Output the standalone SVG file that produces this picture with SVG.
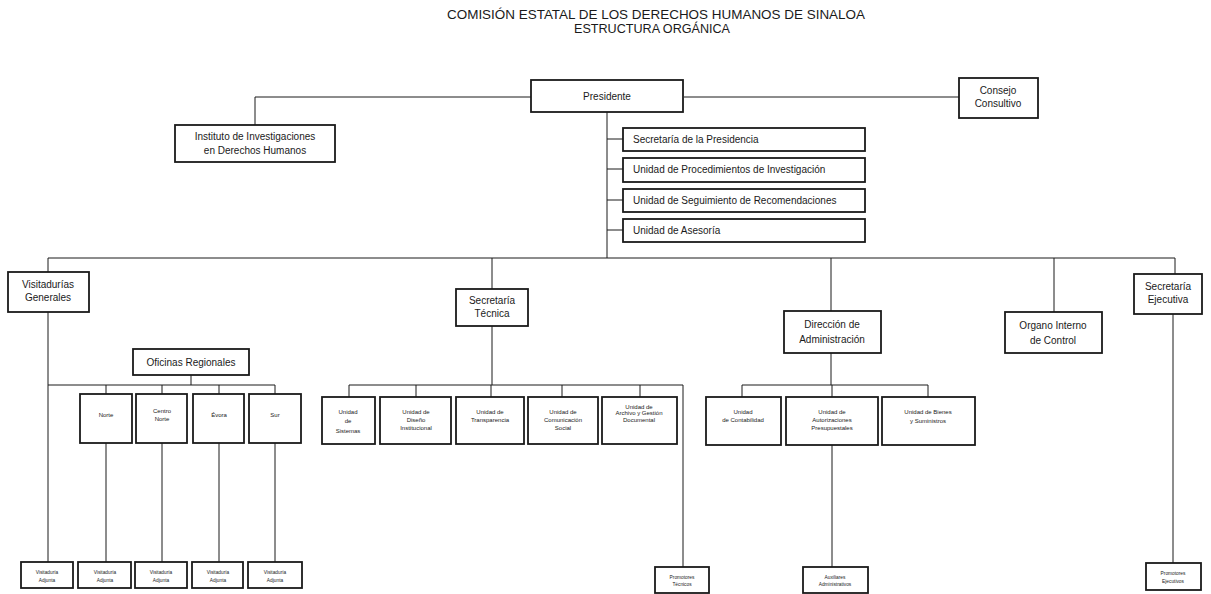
<svg xmlns="http://www.w3.org/2000/svg" width="1211" height="594" viewBox="0 0 1211 594">
<style>
.b{fill:#fff;stroke:#1a1a1a;stroke-width:1.8}
.c{fill:none;stroke:#1a1a1a;stroke-width:1}
text{font-family:"Liberation Sans",Arial,sans-serif;fill:#1a1a1a}
.t{font-size:10px;text-anchor:middle}
.tl{font-size:10px}
.s{font-size:6px;text-anchor:middle}
.xs{font-size:4.8px;text-anchor:middle}
.h{font-size:13px;text-anchor:middle}
</style>
<rect width="1211" height="594" fill="#fff"/>
<g id="title">
<text class="h" x="656" y="19" textLength="418" lengthAdjust="spacingAndGlyphs">COMISIÓN ESTATAL DE LOS DERECHOS HUMANOS DE SINALOA</text>
<text class="h" x="652" y="33" textLength="156" lengthAdjust="spacingAndGlyphs">ESTRUCTURA ORGÁNICA</text>
</g>
<g id="connectors">
<path class="c" d="M531 97H255V125M684 97H959"/>
<path class="c" d="M607 111V258M607 139H623M607 169H623M607 200H623M607 230H623"/>
<path class="c" d="M48 272V258H1175V274M492 258V289M831 258V311M1054 258V312"/>
<path class="c" d="M48 312V562M191 375V385M48 385H275M106 385V394M162 385V394M219 385V394M275 385V394"/>
<path class="c" d="M106 443V562M162 443V562M219 443V562M275 443V562"/>
<path class="c" d="M492 326V385M349 385H683V567M349 385V397M416 385V397M491 385V397M562 385V397M640 385V397"/>
<path class="c" d="M831 353V385M742 385H928M742 385V397M928 385V397M832 385V567"/>
<path class="c" d="M1173 314V563"/>
</g>
<g id="presidente"><rect class="b" x="531" y="80" width="152" height="32"/><text class="t" x="607" y="100">Presidente</text></g>
<g id="instituto"><rect class="b" x="175" y="125" width="160" height="37"/><text class="t" x="255" y="140">Instituto de Investigaciones</text><text class="t" x="255" y="154">en Derechos Humanos</text></g>
<g id="consejo"><rect class="b" x="959" y="78" width="79" height="40"/><text class="t" x="998" y="94">Consejo</text><text class="t" x="998" y="107">Consultivo</text></g>
<g id="secretaria-presidencia"><rect class="b" x="623" y="128" width="242" height="23"/><text class="tl" x="633" y="143">Secretaría de la Presidencia</text></g>
<g id="procedimientos"><rect class="b" x="623" y="158" width="242" height="24"/><text class="tl" x="633" y="173">Unidad de Procedimientos de Investigación</text></g>
<g id="seguimiento"><rect class="b" x="623" y="189" width="242" height="23"/><text class="tl" x="633" y="204">Unidad de Seguimiento de Recomendaciones</text></g>
<g id="asesoria"><rect class="b" x="623" y="219" width="242" height="23"/><text class="tl" x="633" y="234">Unidad de Asesoría</text></g>
<g id="visitadurias"><rect class="b" x="8" y="272" width="81" height="40"/><text class="t" x="48" y="288">Visitadurías</text><text class="t" x="48" y="301">Generales</text></g>
<g id="sec-tecnica"><rect class="b" x="456" y="289" width="72" height="37"/><text class="t" x="492" y="304">Secretaría</text><text class="t" x="492" y="317">Técnica</text></g>
<g id="direccion"><rect class="b" x="784" y="311" width="97" height="42"/><text class="t" x="832" y="328">Dirección de</text><text class="t" x="832" y="343">Administración</text></g>
<g id="organo"><rect class="b" x="1005" y="312" width="97" height="41"/><text class="t" x="1053" y="329">Organo Interno</text><text class="t" x="1053" y="344">de Control</text></g>
<g id="sec-ejecutiva"><rect class="b" x="1134" y="274" width="68" height="40"/><text class="t" x="1168" y="290">Secretaría</text><text class="t" x="1168" y="303">Ejecutiva</text></g>
<g id="oficinas"><rect class="b" x="133" y="349" width="116" height="26"/><text class="t" x="191" y="366">Oficinas Regionales</text></g>
<g id="norte"><rect class="b" x="80" y="394" width="52" height="49"/><text class="s" x="106" y="417">Norte</text></g>
<g id="centro-norte"><rect class="b" x="136" y="394" width="51" height="49"/><text class="s" x="162" y="413">Centro</text><text class="s" x="162" y="421">Norte</text></g>
<g id="evora"><rect class="b" x="193" y="394" width="51" height="49"/><text class="s" x="219" y="417">Évora</text></g>
<g id="sur"><rect class="b" x="249" y="394" width="52" height="49"/><text class="s" x="275" y="417">Sur</text></g>
<g id="va1"><rect class="b" x="21" y="562" width="52" height="26"/><text class="xs" x="47" y="574">Visitaduría</text><text class="xs" x="47" y="582">Adjunta</text></g>
<g id="va2"><rect class="b" x="78" y="562" width="53" height="26"/><text class="xs" x="105" y="574">Visitaduría</text><text class="xs" x="105" y="582">Adjunta</text></g>
<g id="va3"><rect class="b" x="135" y="562" width="52" height="26"/><text class="xs" x="161" y="574">Visitaduría</text><text class="xs" x="161" y="582">Adjunta</text></g>
<g id="va4"><rect class="b" x="192" y="562" width="51" height="26"/><text class="xs" x="218" y="574">Visitaduría</text><text class="xs" x="218" y="582">Adjunta</text></g>
<g id="va5"><rect class="b" x="248" y="562" width="54" height="26"/><text class="xs" x="275" y="574">Visitaduría</text><text class="xs" x="275" y="582">Adjunta</text></g>
<g id="sistemas"><rect class="b" x="322" y="397" width="53" height="47"/><text class="s" x="348" y="414">Unidad</text><text class="s" x="348" y="423">de</text><text class="s" x="348" y="433">Sistemas</text></g>
<g id="diseno"><rect class="b" x="380" y="397" width="71" height="47"/><text class="s" x="416" y="414">Unidad de</text><text class="s" x="416" y="422">Diseño</text><text class="s" x="416" y="430">Institucional</text></g>
<g id="transparencia"><rect class="b" x="456" y="397" width="68" height="47"/><text class="s" x="490" y="414">Unidad de</text><text class="s" x="490" y="422">Transparencia</text></g>
<g id="comunicacion"><rect class="b" x="528" y="397" width="70" height="47"/><text class="s" x="563" y="414">Unidad de</text><text class="s" x="563" y="422">Comunicación</text><text class="s" x="563" y="430">Social</text></g>
<g id="archivo"><rect class="b" x="602" y="397" width="75" height="47"/><text class="s" x="639" y="409">Unidad de</text><text class="s" x="639" y="415">Archivo y Gestión</text><text class="s" x="639" y="422">Documental</text></g>
<g id="promotores-tecnicos"><rect class="b" x="655" y="567" width="54" height="26"/><text class="xs" x="682" y="579">Promotores</text><text class="xs" x="682" y="586">Técnicos</text></g>
<g id="contabilidad"><rect class="b" x="706" y="397" width="75" height="48"/><text class="s" x="743" y="414">Unidad</text><text class="s" x="743" y="422">de Contabilidad</text></g>
<g id="autorizaciones"><rect class="b" x="786" y="397" width="92" height="48"/><text class="s" x="832" y="414">Unidad de</text><text class="s" x="832" y="422">Autorizaciones</text><text class="s" x="832" y="430">Presupuestales</text></g>
<g id="bienes"><rect class="b" x="882" y="397" width="93" height="48"/><text class="s" x="928" y="414">Unidad de Bienes</text><text class="s" x="928" y="423">y Suministros</text></g>
<g id="auxiliares"><rect class="b" x="803" y="567" width="65" height="26"/><text class="xs" x="835" y="579">Auxiliares</text><text class="xs" x="835" y="586">Administrativos</text></g>
<g id="promotores-ejecutivos"><rect class="b" x="1146" y="563" width="55" height="27"/><text class="xs" x="1173" y="575">Promotores</text><text class="xs" x="1173" y="583">Ejecutivos</text></g>
</svg>
